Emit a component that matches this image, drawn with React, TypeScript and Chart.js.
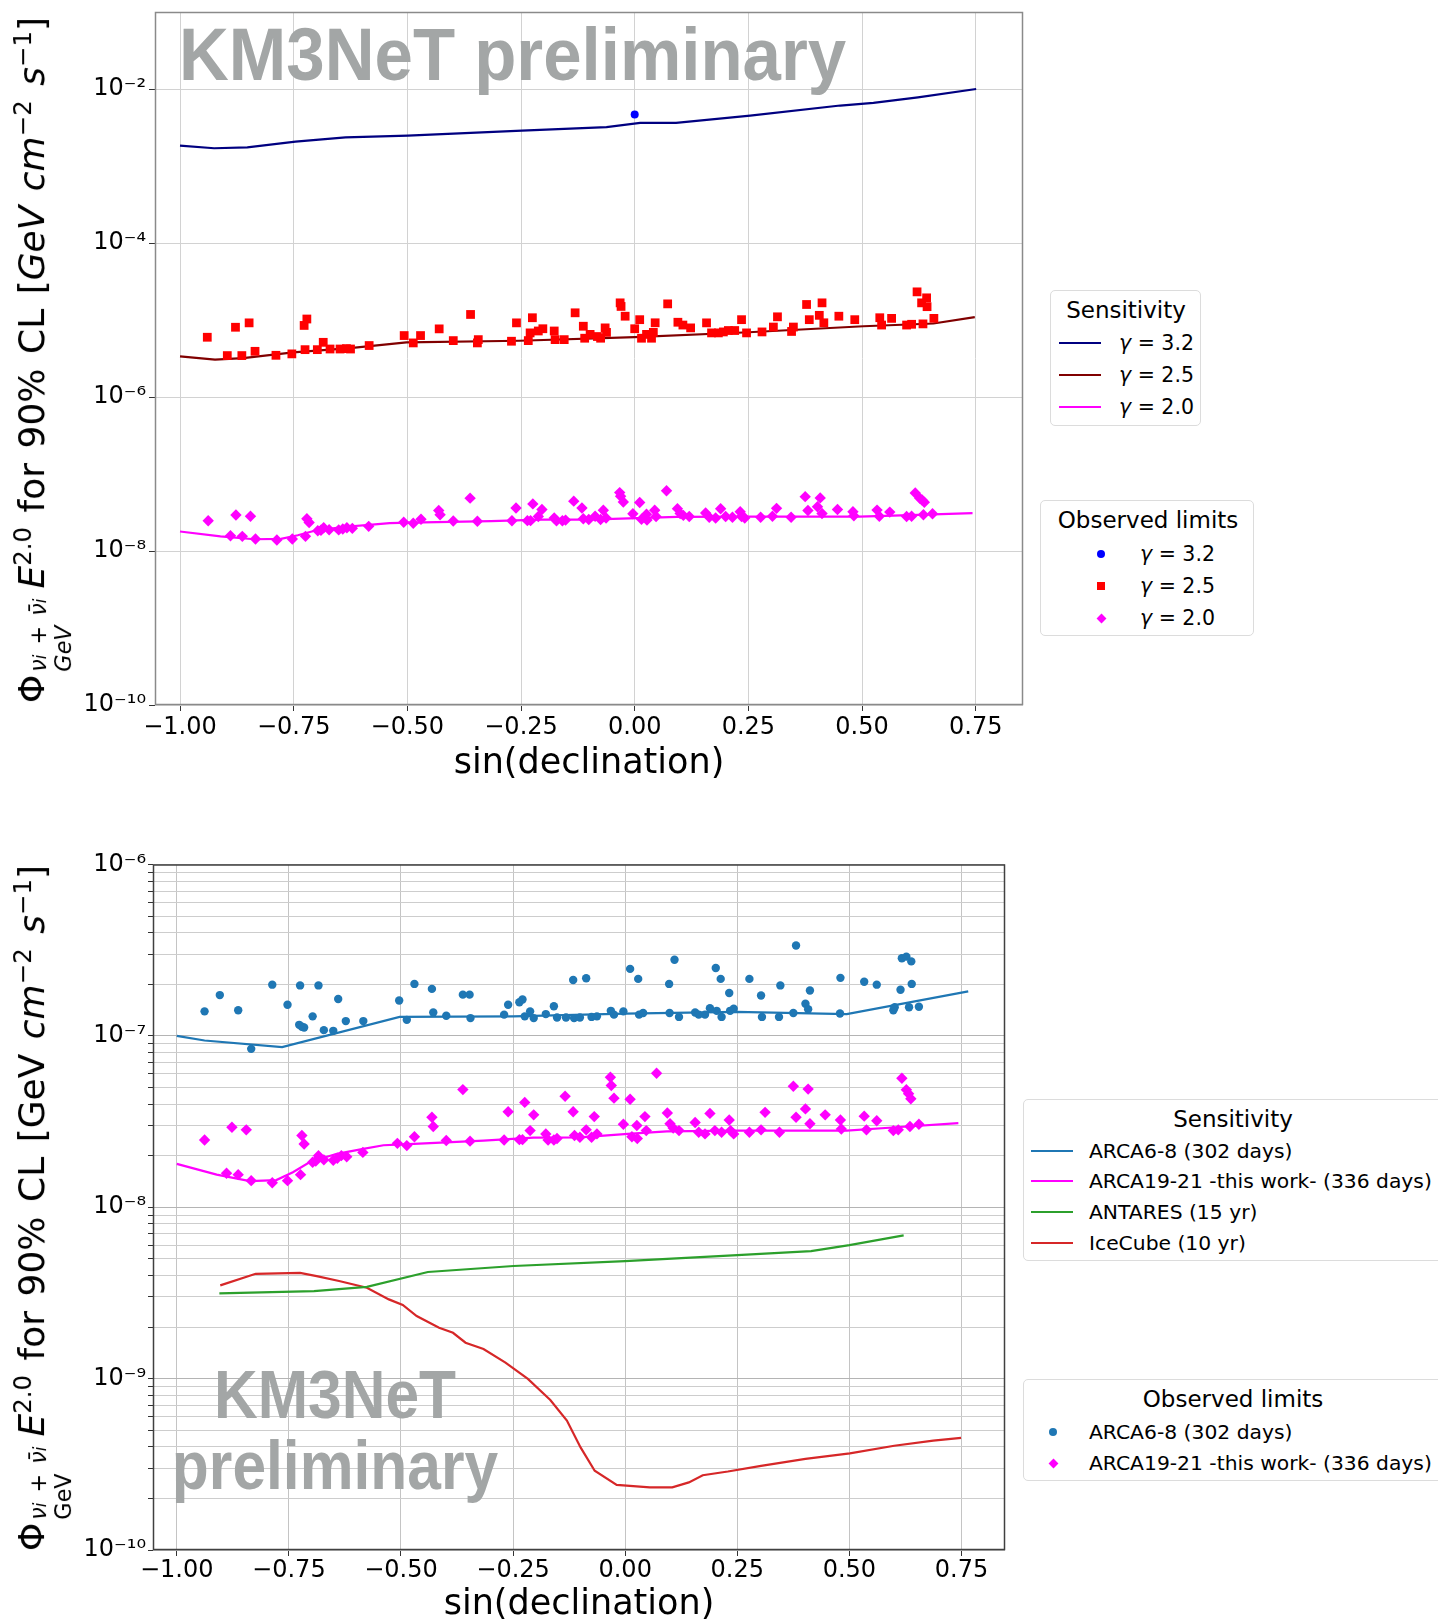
import React, { useEffect, useRef } from "react";
import { Chart, registerables } from "chart.js";

Chart.register(...registerables);

const FONT = "'DejaVu Sans', 'Noto Sans', sans-serif";
const WM_FONT = "'Liberation Sans', Arial, sans-serif";
Chart.defaults.font.family = FONT;

// ---------- tick labels ----------
const xTickValues = [-1, -0.75, -0.5, -0.25, 0, 0.25, 0.5, 0.75];
const topYTickValues = [1e-10, 1e-8, 1e-6, 1e-4, 1e-2];
const bottomYDecades = [-10, -9, -8, -7];
const bottomYTop = 1e-6;

// ---------- top chart : sensitivity lines ----------
const sens32Dec = [-1, -0.925, -0.852, -0.746, -0.636, -0.499, -0.248, -0.062, 0.012, 0.091, 0.254, 0.452, 0.525, 0.623, 0.751];
const sens32Flux = [1.84e-3, 1.7e-3, 1.75e-3, 2.07e-3, 2.36e-3, 2.48e-3, 2.88e-3, 3.19e-3, 3.63e-3, 3.63e-3, 4.52e-3, 6.1e-3, 6.6e-3, 7.8e-3, 1.0e-2];

const sens25Dec = [-1, -0.923, -0.861, -0.751, -0.626, -0.502, -0.253, 0, 0.251, 0.503, 0.657, 0.748];
const sens25Flux = [3.37e-6, 3.06e-6, 3.2e-6, 3.8e-6, 4.32e-6, 5.13e-6, 5.38e-6, 6.0e-6, 6.93e-6, 8.3e-6, 9.0e-6, 1.09e-5];

// gamma = 2.0 sensitivity == ARCA19-21 sensitivity
const sens20Dec = [-1, -0.911, -0.837, -0.778, -0.741, -0.704, -0.643, -0.584, -0.539, -0.495, -0.316, -0.205, -0.101, 0.006, 0.093, 0.249, 0.494, 0.605, 0.743];
const sens20Flux = [1.79e-8, 1.55e-8, 1.42e-8, 1.44e-8, 1.6e-8, 1.83e-8, 2.05e-8, 2.19e-8, 2.3e-8, 2.33e-8, 2.45e-8, 2.55e-8, 2.56e-8, 2.68e-8, 2.77e-8, 2.8e-8, 2.8e-8, 2.93e-8, 3.1e-8];

// ---------- top chart : observed limits ----------
const obs32Dec = [0.0];
const obs32Flux = [4.66e-3];

const obs25Dec = [-0.94, -0.896, -0.878, -0.864, -0.848, -0.835, -0.789, -0.754, -0.725, -0.727, -0.721, -0.698, -0.685, -0.67, -0.648, -0.634, -0.625, -0.584, -0.507, -0.487, -0.471, -0.43, -0.399, -0.361, -0.346, -0.344, -0.271, -0.26, -0.234, -0.23, -0.225, -0.212, -0.202, -0.177, -0.175, -0.155, -0.131, -0.113, -0.11, -0.098, -0.082, -0.075, -0.065, -0.062, -0.032, -0.03, -0.021, 0.0, 0.011, 0.015, 0.026, 0.037, 0.041, 0.045, 0.0725, 0.095, 0.106, 0.123, 0.158, 0.169, 0.184, 0.195, 0.206, 0.22, 0.235, 0.246, 0.28, 0.305, 0.314, 0.345, 0.349, 0.378, 0.384, 0.406, 0.412, 0.416, 0.449, 0.484, 0.539, 0.543, 0.565, 0.598, 0.609, 0.621, 0.631, 0.634, 0.642, 0.643, 0.658];
const obs25Flux = [5.97e-6, 3.45e-6, 8.05e-6, 3.45e-6, 9.18e-6, 3.92e-6, 3.48e-6, 3.63e-6, 4.12e-6, 8.5e-6, 1.03e-5, 4.12e-6, 5.13e-6, 4.2e-6, 4.2e-6, 4.25e-6, 4.2e-6, 4.66e-6, 6.28e-6, 5.04e-6, 6.28e-6, 7.67e-6, 5.4e-6, 1.18e-5, 5.04e-6, 5.56e-6, 5.3e-6, 9.18e-6, 5.4e-6, 6.8e-6, 1.07e-5, 7.2e-6, 7.7e-6, 7.2e-6, 5.56e-6, 5.56e-6, 1.24e-5, 8.3e-6, 5.8e-6, 6.5e-6, 6.1e-6, 5.8e-6, 7.9e-6, 6.9e-6, 1.67e-5, 1.5e-5, 1.12e-5, 7.7e-6, 1.01e-5, 5.8e-6, 6.5e-6, 5.8e-6, 6.9e-6, 9.2e-6, 1.62e-5, 9.35e-6, 8.6e-6, 7.9e-6, 9.18e-6, 6.8e-6, 6.8e-6, 7.0e-6, 7.3e-6, 7.3e-6, 1.01e-5, 6.8e-6, 7.0e-6, 8.1e-6, 1.1e-5, 7.1e-6, 8.1e-6, 1.59e-5, 1.01e-5, 1.15e-5, 1.67e-5, 9.2e-6, 1.12e-5, 1.01e-5, 1.07e-5, 8.6e-6, 1.05e-5, 8.6e-6, 8.8e-6, 2.32e-5, 1.67e-5, 8.9e-6, 1.94e-5, 1.49e-5, 1.05e-5];

// gamma = 2.0 observed == ARCA19-21 observed
const obs20Dec = [-0.938, -0.889, -0.877, -0.863, -0.845, -0.834, -0.787, -0.753, -0.724, -0.721, -0.716, -0.697, -0.69, -0.684, -0.672, -0.651, -0.642, -0.633, -0.621, -0.585, -0.508, -0.487, -0.47, -0.431, -0.428, -0.399, -0.362, -0.346, -0.27, -0.261, -0.236, -0.229, -0.224, -0.212, -0.204, -0.177, -0.172, -0.159, -0.152, -0.134, -0.116, -0.113, -0.101, -0.087, -0.075, -0.069, -0.063, -0.033, -0.031, -0.025, -0.004, 0.011, 0.015, 0.026, 0.027, 0.044, 0.047, 0.07, 0.094, 0.1, 0.107, 0.12, 0.156, 0.164, 0.178, 0.189, 0.2, 0.215, 0.232, 0.235, 0.242, 0.277, 0.303, 0.312, 0.344, 0.375, 0.381, 0.402, 0.408, 0.412, 0.446, 0.48, 0.482, 0.533, 0.538, 0.561, 0.598, 0.609, 0.617, 0.627, 0.632, 0.637, 0.635, 0.655];
const obs20Flux = [2.47e-8, 1.58e-8, 2.93e-8, 1.55e-8, 2.83e-8, 1.43e-8, 1.39e-8, 1.43e-8, 1.55e-8, 2.62e-8, 2.34e-8, 1.83e-8, 1.86e-8, 2.0e-8, 1.89e-8, 1.88e-8, 1.93e-8, 2.0e-8, 1.97e-8, 2.09e-8, 2.36e-8, 2.29e-8, 2.58e-8, 3.35e-8, 2.96e-8, 2.45e-8, 4.86e-8, 2.43e-8, 2.47e-8, 3.61e-8, 2.48e-8, 2.48e-8, 4.09e-8, 2.8e-8, 3.46e-8, 2.68e-8, 2.47e-8, 2.47e-8, 2.52e-8, 4.44e-8, 3.61e-8, 2.62e-8, 2.56e-8, 2.83e-8, 2.56e-8, 3.38e-8, 2.68e-8, 5.73e-8, 5.13e-8, 4.33e-8, 3.05e-8, 4.27e-8, 2.58e-8, 3.0e-8, 2.52e-8, 3.38e-8, 2.8e-8, 6.05e-8, 3.55e-8, 3.07e-8, 2.9e-8, 2.8e-8, 3.12e-8, 2.74e-8, 2.68e-8, 3.53e-8, 2.8e-8, 2.74e-8, 3.23e-8, 2.8e-8, 2.68e-8, 2.74e-8, 2.83e-8, 3.58e-8, 2.74e-8, 5.08e-8, 3.35e-8, 3.75e-8, 4.89e-8, 3.07e-8, 3.46e-8, 3.23e-8, 2.86e-8, 3.4e-8, 2.83e-8, 3.2e-8, 2.8e-8, 2.83e-8, 5.66e-8, 4.85e-8, 4.6e-8, 4.3e-8, 2.96e-8, 3.05e-8];

// ---------- bottom chart ----------
const arca68SensDec = [-1, -0.938, -0.765, -0.503, -0.25, 0, 0.248, 0.494, 0.765];
const arca68SensFlux = [1.0e-7, 9.4e-8, 8.6e-8, 1.29e-7, 1.3e-7, 1.35e-7, 1.38e-7, 1.34e-7, 1.82e-7];

const antaresDec = [-0.905, -0.694, -0.576, -0.44, -0.249, 0.0, 0.25, 0.4145, 0.5, 0.621];
const antaresFlux = [3.14e-9, 3.24e-9, 3.43e-9, 4.19e-9, 4.54e-9, 4.85e-9, 5.26e-9, 5.55e-9, 6.01e-9, 6.86e-9];

const icecubeDec = [-0.903, -0.824, -0.725, -0.688, -0.638, -0.576, -0.527, -0.496, -0.465, -0.415, -0.384, -0.356, -0.316, -0.267, -0.217, -0.167, -0.13, -0.0995, -0.068, -0.019, 0.055, 0.105, 0.142, 0.173, 0.229, 0.303, 0.402, 0.501, 0.6, 0.687, 0.749];
const icecubeFlux = [3.5e-9, 4.09e-9, 4.14e-9, 3.96e-9, 3.71e-9, 3.39e-9, 2.9e-9, 2.69e-9, 2.32e-9, 1.98e-9, 1.85e-9, 1.62e-9, 1.49e-9, 1.24e-9, 9.96e-10, 7.5e-10, 5.69e-10, 3.97e-10, 2.9e-10, 2.4e-10, 2.32e-10, 2.32e-10, 2.48e-10, 2.73e-10, 2.87e-10, 3.1e-10, 3.4e-10, 3.66e-10, 4.06e-10, 4.35e-10, 4.51e-10];

const arca68ObsDec = [-0.938, -0.904, -0.863, -0.834, -0.787, -0.753, -0.727, -0.725, -0.721, -0.716, -0.697, -0.684, -0.672, -0.651, -0.64, -0.623, -0.584, -0.504, -0.487, -0.47, -0.431, -0.428, -0.399, -0.362, -0.347, -0.345, -0.27, -0.261, -0.236, -0.229, -0.224, -0.212, -0.204, -0.177, -0.159, -0.152, -0.132, -0.116, -0.114, -0.101, -0.087, -0.075, -0.063, -0.032, -0.025, -0.004, 0.011, 0.029, 0.031, 0.04, 0.098, 0.099, 0.11, 0.12, 0.156, 0.164, 0.178, 0.189, 0.202, 0.204, 0.213, 0.215, 0.232, 0.234, 0.242, 0.277, 0.303, 0.305, 0.343, 0.346, 0.375, 0.381, 0.402, 0.408, 0.412, 0.479, 0.48, 0.533, 0.561, 0.598, 0.601, 0.614, 0.617, 0.627, 0.633, 0.638, 0.639, 0.655];
const arca68ObsFlux = [1.39e-7, 1.73e-7, 1.41e-7, 8.4e-8, 1.99e-7, 1.52e-7, 1.16e-7, 1.97e-7, 1.13e-7, 1.12e-7, 1.3e-7, 1.97e-7, 1.08e-7, 1.07e-7, 1.64e-7, 1.22e-7, 1.22e-7, 1.61e-7, 1.24e-7, 2.01e-7, 1.88e-7, 1.37e-7, 1.31e-7, 1.74e-7, 1.74e-7, 1.27e-7, 1.33e-7, 1.52e-7, 1.57e-7, 1.63e-7, 1.3e-7, 1.39e-7, 1.27e-7, 1.34e-7, 1.49e-7, 1.28e-7, 1.28e-7, 2.12e-7, 1.27e-7, 1.28e-7, 2.17e-7, 1.29e-7, 1.3e-7, 1.4e-7, 1.33e-7, 1.39e-7, 2.46e-7, 2.15e-7, 1.33e-7, 1.36e-7, 2.01e-7, 1.36e-7, 2.78e-7, 1.29e-7, 1.37e-7, 1.33e-7, 1.33e-7, 1.45e-7, 2.49e-7, 1.4e-7, 2.15e-7, 1.29e-7, 1.78e-7, 1.4e-7, 1.44e-7, 2.15e-7, 1.72e-7, 1.29e-7, 1.29e-7, 1.97e-7, 1.36e-7, 3.37e-7, 1.54e-7, 1.43e-7, 1.84e-7, 1.35e-7, 2.18e-7, 2.07e-7, 1.99e-7, 1.41e-7, 1.47e-7, 1.86e-7, 2.84e-7, 2.9e-7, 1.47e-7, 2.72e-7, 2.01e-7, 1.48e-7];

// ---------- helpers ----------
const SUP: Record<string, string> = { "-": "⁻", "0": "⁰", "1": "¹", "2": "²", "3": "³", "4": "⁴", "5": "⁵", "6": "⁶", "7": "⁷", "8": "⁸", "9": "⁹" };
function logLabel(v: number): string {
  const e = Math.round(Math.log10(v));
  return "10" + String(e).split("").map((c) => SUP[c]).join("");
}
function fmtX(v: number): string {
  return v.toFixed(2).replace("-", "−");
}
function pts(xs: number[], ys: number[]) {
  return xs.map((x, i) => ({ x, y: ys[i] }));
}

const framePlugin = {
  id: "frame",
  afterDatasetsDraw(chart: any, _args: any, opts: any) {
    const { ctx, chartArea: a } = chart;
    ctx.save();
    ctx.strokeStyle = opts.color || "#000";
    ctx.lineWidth = opts.width || 1;
    ctx.strokeRect(a.left + 0.5, a.top + 0.5, a.right - a.left - 1, a.bottom - a.top - 1);
    ctx.restore();
  },
};

function lineDs(label: string, xs: number[], ys: number[], color: string) {
  return {
    label,
    data: pts(xs, ys),
    showLine: true,
    borderColor: color,
    backgroundColor: color,
    borderWidth: 2.2,
    pointRadius: 0,
    tension: 0,
  };
}
function pointDs(label: string, xs: number[], ys: number[], color: string, style: string, r: number) {
  return {
    label,
    data: pts(xs, ys),
    showLine: false,
    pointStyle: style,
    pointRadius: r,
    pointBackgroundColor: color,
    pointBorderColor: color,
    pointBorderWidth: 0,
    backgroundColor: color,
    borderColor: color,
  };
}

function xScale(min: number, max: number, height: number, gridColor: string, labelPad: number) {
  return {
    type: "linear",
    min,
    max,
    afterBuildTicks: (s: any) => {
      s.ticks = xTickValues.map((v) => ({ value: v }));
    },
    afterFit: (s: any) => {
      s.height = height;
      s.paddingLeft = 0;
      s.paddingRight = 0;
    },
    ticks: {
      callback: (v: any) => fmtX(Number(v)),
      font: { size: 24, family: FONT },
      color: "#000",
      padding: labelPad,
      maxRotation: 0,
      minRotation: 0,
      autoSkip: false,
    },
    grid: { color: gridColor, lineWidth: 1, tickLength: 6, tickColor: "#333", tickWidth: 1 },
    border: { display: false },
    title: {
      display: true,
      text: "sin(declination)",
      font: { size: 35, family: FONT },
      color: "#000",
      padding: 0,
    },
  };
}

function makeTopConfig(): any {
  return {
    type: "scatter",
    data: {
      datasets: [
        pointDs("Observed γ = 3.2", obs32Dec, obs32Flux, "#0000ff", "circle", 4),
        pointDs("Observed γ = 2.5", obs25Dec, obs25Flux, "#ff0000", "rect", 6.2),
        pointDs("Observed γ = 2.0", obs20Dec, obs20Flux, "#ff00ff", "rectRot", 5.7),
        lineDs("Sensitivity γ = 3.2", sens32Dec, sens32Flux, "#000080"),
        lineDs("Sensitivity γ = 2.5", sens25Dec, sens25Flux, "#800000"),
        lineDs("Sensitivity γ = 2.0", sens20Dec, sens20Flux, "#ff00ff"),
      ],
    },
    options: {
      responsive: false,
      animation: false,
      events: [],
      devicePixelRatio: 1,
      layout: { padding: { left: 0, top: 12, right: 17, bottom: 0 } },
      plugins: { legend: { display: false }, tooltip: { enabled: false }, frame: { color: "#8a8a8a", width: 1.5 } },
      scales: {
        x: xScale(-1.055, 0.854, 80, "#d2d2d2", 2),
        y: {
          type: "logarithmic",
          min: 1e-10,
          max: 1e-1,
          afterBuildTicks: (s: any) => {
            s.ticks = topYTickValues.map((v) => ({ value: v }));
          },
          afterFit: (s: any) => {
            s.width = 155;
            s.paddingTop = 0;
            s.paddingBottom = 0;
          },
          ticks: { callback: (v: any) => logLabel(Number(v)), font: { size: 24, family: FONT }, color: "#000", padding: 3, autoSkip: false },
          grid: { color: "#d2d2d2", lineWidth: 1, tickLength: 6, tickColor: "#333" },
          border: { display: false },
        },
      },
    },
    plugins: [framePlugin],
  };
}

function bottomYTicks() {
  const t: any[] = [];
  bottomYDecades.forEach((e) => {
    for (let k = 1; k <= 9; k++) t.push({ value: k * Math.pow(10, e), minor: k !== 1 });
  });
  t.push({ value: bottomYTop, minor: false });
  return t;
}

function makeBottomConfig(): any {
  return {
    type: "scatter",
    data: {
      datasets: [
        pointDs("ARCA6-8 (302 days) observed", arca68ObsDec, arca68ObsFlux, "#1f77b4", "circle", 4.2),
        pointDs("ARCA19-21 -this work- (336 days) observed", obs20Dec, obs20Flux, "#ff00ff", "rectRot", 5.7),
        lineDs("ARCA6-8 (302 days)", arca68SensDec, arca68SensFlux, "#1f77b4"),
        lineDs("ARCA19-21 -this work- (336 days)", sens20Dec, sens20Flux, "#ff00ff"),
        lineDs("ANTARES (15 yr)", antaresDec, antaresFlux, "#2ca02c"),
        lineDs("IceCube (10 yr)", icecubeDec, icecubeFlux, "#d62728"),
      ],
    },
    options: {
      responsive: false,
      animation: false,
      events: [],
      devicePixelRatio: 1,
      layout: { padding: { left: 0, top: 44.5, right: 15, bottom: 0 } },
      plugins: { legend: { display: false }, tooltip: { enabled: false }, frame: { color: "#404040", width: 1.5 } },
      scales: {
        x: xScale(-1.053, 0.847, 76, "#c4c4c4", 0),
        y: {
          type: "logarithmic",
          min: 1e-10,
          max: 1e-6,
          afterBuildTicks: (s: any) => {
            s.ticks = bottomYTicks();
          },
          afterFit: (s: any) => {
            s.width = 153;
            s.paddingTop = 0;
            s.paddingBottom = 0;
          },
          ticks: {
            callback: (v: any, i: number, ticks: any[]) => (ticks[i] && ticks[i].minor ? "" : logLabel(Number(v))),
            font: { size: 24, family: FONT },
            color: "#000",
            padding: 2,
            autoSkip: false,
          },
          grid: {
            color: (c: any) => (c.tick && c.tick.minor ? "#cdcdcd" : "#b4b4b4"),
            lineWidth: 1,
            tickLength: 5,
            tickColor: "#333",
          },
          border: { display: false },
        },
      },
    },
    plugins: [framePlugin],
  };
}

function ChartCanvas({ make, left, top, width, height }: any) {
  const ref = useRef<HTMLCanvasElement>(null);
  useEffect(() => {
    const chart = new Chart(ref.current as HTMLCanvasElement, make());
    return () => chart.destroy();
  }, []);
  return (
    <canvas
      ref={ref}
      width={width}
      height={height}
      style={{ position: "absolute", left, top, width, height }}
    />
  );
}

const abs = (s: React.CSSProperties): React.CSSProperties => ({ position: "absolute", ...s });

function LegendBox({ left, top, width, height, children }: any) {
  return (
    <div
      style={abs({
        left,
        top,
        width,
        height,
        border: "1.5px solid #dcdcdc",
        borderRadius: 5,
        background: "rgba(255,255,255,0.85)",
        boxSizing: "border-box",
        fontFamily: FONT,
        color: "#000",
      })}
    >
      {children}
    </div>
  );
}

function Txt({ x, y, size, children, center }: any) {
  return (
    <div
      style={abs({
        left: x,
        top: y,
        transform: center ? "translate(-50%, -50%)" : "translateY(-50%)",
        fontSize: size,
        lineHeight: 1,
        whiteSpace: "nowrap",
      })}
    >
      {children}
    </div>
  );
}

function LineHandle({ x, y, w, color }: any) {
  return <div style={abs({ left: x, top: y - 1, width: w, height: 2, background: color })} />;
}

function Marker({ x, y, kind, color }: any) {
  if (kind === "circle")
    return <div style={abs({ left: x - 4, top: y - 4, width: 8, height: 8, borderRadius: 4, background: color })} />;
  if (kind === "square") return <div style={abs({ left: x - 4, top: y - 4, width: 8, height: 8, background: color })} />;
  return <div style={abs({ left: x - 3.5, top: y - 3.5, width: 7, height: 7, background: color, transform: "rotate(45deg)" })} />;
}

function YLabel({ cx, cy, italicGeV }: any) {
  const supStyle: React.CSSProperties = { fontSize: "0.68em", verticalAlign: "0.55em" };
  return (
    <div
      style={abs({
        left: cx,
        top: cy,
        transform: "translate(-50%, -50%) rotate(-90deg)",
        whiteSpace: "nowrap",
        fontFamily: FONT,
        fontSize: 36,
        lineHeight: 1,
        color: "#000",
        wordSpacing: 3,
      })}
    >
      <span>Φ</span>
      <span
        style={{
          display: "inline-flex",
          flexDirection: "column",
          fontSize: "0.62em",
          verticalAlign: "-0.05em",
          lineHeight: 1.15,
          marginLeft: 3,
          marginRight: 10,
        }}
      >
        <span>
          <i>ν</i>
          <i style={{ fontSize: "0.75em" }}>i</i>
          {" + "}
          <i>ν̄</i>
          <i style={{ fontSize: "0.75em" }}>i</i>
        </span>
        <span>{italicGeV ? <i>GeV</i> : <span>GeV</span>}</span>
      </span>
      <i>E</i>
      <sup style={supStyle}>2.0</sup>
      <span> for 90% CL [</span>
      {italicGeV ? <i>GeV</i> : <span>GeV</span>}
      <span> </span>
      <i>cm</i>
      <sup style={supStyle}>−2</sup>
      <span> </span>
      <i>s</i>
      <sup style={supStyle}>−1</sup>
      <span>]</span>
    </div>
  );
}

const WM_COLOR = "#a3a6a6";

export default function App() {
  return (
    <div style={abs({ left: 0, top: 0, width: 1438, height: 1623, overflow: "hidden", background: "#fff" })}>
      {/* ---------- top chart ---------- */}
      <ChartCanvas make={makeTopConfig} left={0} top={0} width={1040} height={785} />
      <div
        style={abs({
          left: 179,
          top: 17,
          fontFamily: WM_FONT,
          fontWeight: 700,
          fontSize: 75,
          lineHeight: 1,
          color: WM_COLOR,
          whiteSpace: "nowrap",
          transform: "scaleX(0.92)",
          transformOrigin: "left center",
        })}
      >
        KM3NeT preliminary
      </div>
      <YLabel cx={44} cy={360} italicGeV={true} />

      <LegendBox left={1050} top={290} width={151} height={136}>
        <Txt x={75} y={19} size={23} center>
          Sensitivity
        </Txt>
        <LineHandle x={8} y={52} w={42} color="#000080" />
        <Txt x={68} y={52} size={20.5}>
          <i>γ</i> = 3.2
        </Txt>
        <LineHandle x={8} y={84} w={42} color="#800000" />
        <Txt x={68} y={84} size={20.5}>
          <i>γ</i> = 2.5
        </Txt>
        <LineHandle x={8} y={116} w={42} color="#ff00ff" />
        <Txt x={68} y={116} size={20.5}>
          <i>γ</i> = 2.0
        </Txt>
      </LegendBox>

      <LegendBox left={1040} top={500} width={214} height={136}>
        <Txt x={107} y={19} size={23} center>
          Observed limits
        </Txt>
        <Marker x={60} y={53} kind="circle" color="#0000ff" />
        <Txt x={99} y={53} size={20.5}>
          <i>γ</i> = 3.2
        </Txt>
        <Marker x={60} y={85} kind="square" color="#ff0000" />
        <Txt x={99} y={85} size={20.5}>
          <i>γ</i> = 2.5
        </Txt>
        <Marker x={60} y={117} kind="diamond" color="#ff00ff" />
        <Txt x={99} y={117} size={20.5}>
          <i>γ</i> = 2.0
        </Txt>
      </LegendBox>

      {/* ---------- bottom chart ---------- */}
      <ChartCanvas make={makeBottomConfig} left={0} top={820} width={1020} height={806} />
      <div
        style={abs({
          left: 335,
          top: 1360,
          fontFamily: WM_FONT,
          fontWeight: 700,
          fontSize: 68,
          lineHeight: 1,
          color: WM_COLOR,
          whiteSpace: "nowrap",
          transform: "translateX(-50%) scaleX(0.89)",
        })}
      >
        KM3NeT
      </div>
      <div
        style={abs({
          left: 335,
          top: 1431,
          fontFamily: WM_FONT,
          fontWeight: 700,
          fontSize: 68,
          lineHeight: 1,
          color: WM_COLOR,
          whiteSpace: "nowrap",
          transform: "translateX(-50%) scaleX(0.89)",
        })}
      >
        preliminary
      </div>
      <YLabel cx={44} cy={1208} italicGeV={false} />

      <LegendBox left={1023} top={1099} width={425} height={162}>
        <Txt x={209} y={19} size={23} center>
          Sensitivity
        </Txt>
        <LineHandle x={7} y={51} w={42} color="#1f77b4" />
        <Txt x={65} y={51} size={20.3}>
          ARCA6-8 (302 days)
        </Txt>
        <LineHandle x={7} y={81} w={42} color="#ff00ff" />
        <Txt x={65} y={81} size={20.3}>
          ARCA19-21 -this work- (336 days)
        </Txt>
        <LineHandle x={7} y={112} w={42} color="#2ca02c" />
        <Txt x={65} y={112} size={20.3}>
          ANTARES (15 yr)
        </Txt>
        <LineHandle x={7} y={143} w={42} color="#d62728" />
        <Txt x={65} y={143} size={20.3}>
          IceCube (10 yr)
        </Txt>
      </LegendBox>

      <LegendBox left={1023} top={1379} width={425} height={102}>
        <Txt x={209} y={19} size={23} center>
          Observed limits
        </Txt>
        <Marker x={29} y={52} kind="circle" color="#1f77b4" />
        <Txt x={65} y={52} size={20.3}>
          ARCA6-8 (302 days)
        </Txt>
        <Marker x={29} y={83} kind="diamond" color="#ff00ff" />
        <Txt x={65} y={83} size={20.3}>
          ARCA19-21 -this work- (336 days)
        </Txt>
      </LegendBox>
    </div>
  );
}
